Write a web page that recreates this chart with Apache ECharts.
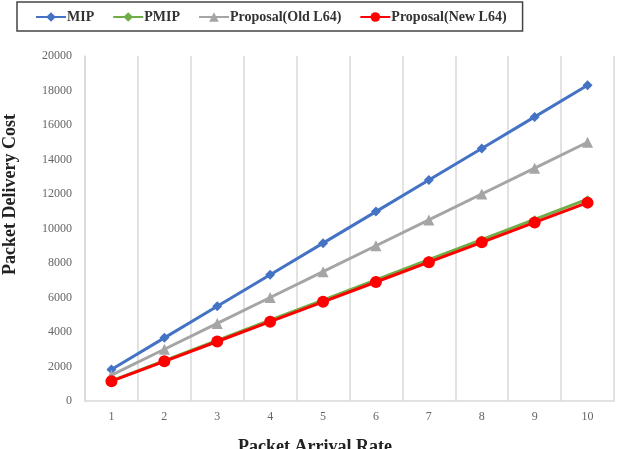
<!DOCTYPE html>
<html>
<head>
<meta charset="utf-8">
<script src="https://cdn.jsdelivr.net/npm/echarts@6/dist/echarts.min.js"></script>
<style>
html,body{margin:0;padding:0;background:#fff;}
#main{width:628px;height:449px;}
</style>
</head>
<body>
<div id="main"></div>
<script>
var rates = ['1', '2', '3', '4', '5', '6', '7', '8', '9', '10'];
var mipCost = [1830, 3660, 5490, 7320, 9150, 10980, 12810, 14640, 16470, 18300];
var pmipCost = [1170, 2340, 3510, 4680, 5850, 7020, 8190, 9360, 10530, 11700];
var oldL64Cost = [1500, 3000, 4500, 6000, 7500, 9000, 10500, 12000, 13500, 15000];
var newL64Cost = [1150, 2300, 3450, 4600, 5750, 6900, 8050, 9200, 10350, 11500];

var serif = '"Liberation Serif", "DejaVu Serif", serif';

var myChart = echarts.init(document.getElementById('main'));
var option = {
    animation: false,
    legend: {
        left: 17,
        top: 2,
        padding: [8, 16, 7, 18],
        borderColor: '#444',
        borderWidth: 1.5,
        itemWidth: 30,
        itemHeight: 12,
        itemGap: 18,
        textStyle: {fontFamily: serif, fontWeight: 'bold', fontSize: 14, color: '#333', padding: [0, 0, 0, -4]},
        data: ['MIP', 'PMIP', 'Proposal(Old L64)', 'Proposal(New L64)']
    },
    grid: {left: 85, right: 14, top: 56, bottom: 48},
    xAxis: {
        type: 'category',
        data: rates,
        boundaryGap: true,
        axisLine: {lineStyle: {color: '#d9d9d9', width: 1.5}},
        axisTick: {show: false},
        axisLabel: {fontFamily: serif, fontSize: 12, color: '#666', margin: 10},
        splitLine: {show: true, lineStyle: {color: '#d9d9d9', width: 1.5}}
    },
    yAxis: {
        type: 'value',
        min: 0,
        max: 20000,
        interval: 2000,
        axisLine: {show: true, lineStyle: {color: '#d9d9d9', width: 1.5}},
        axisTick: {show: false},
        axisLabel: {fontFamily: serif, fontSize: 12, color: '#666', margin: 13, formatter: function (v) { return String(v); }},
        splitLine: {show: false}
    },
    graphic: [{
        type: 'text',
        left: 1,
        top: 114,
        rotation: Math.PI / 2,
        style: {text: 'Packet Delivery Cost', fontFamily: serif, fontWeight: 'bold', fontSize: 18, fill: '#222'}
    }, {
        type: 'text',
        left: 238,
        top: 438,
        style: {text: 'Packet Arrival Rate', fontFamily: serif, fontWeight: 'bold', fontSize: 18, fill: '#222'}
    }],
    series: [{
        name: 'MIP',
        type: 'line',
        data: mipCost,
        symbol: 'diamond',
        symbolSize: 10,
        itemStyle: {color: '#4472c4'},
        lineStyle: {width: 3, color: '#4472c4'}
    }, {
        name: 'PMIP',
        type: 'line',
        data: pmipCost,
        symbol: 'diamond',
        symbolSize: 8,
        itemStyle: {color: '#70ad47'},
        lineStyle: {width: 3, color: '#70ad47'}
    }, {
        name: 'Proposal(Old L64)',
        type: 'line',
        data: oldL64Cost,
        symbol: 'triangle',
        symbolSize: 11,
        itemStyle: {color: '#a5a5a5'},
        lineStyle: {width: 3, color: '#a5a5a5'}
    }, {
        name: 'Proposal(New L64)',
        type: 'line',
        data: newL64Cost,
        symbol: 'circle',
        symbolSize: 12,
        itemStyle: {color: '#ff0000'},
        lineStyle: {width: 3, color: '#ff0000'}
    }]
};
myChart.setOption(option);
</script>
</body>
</html>
